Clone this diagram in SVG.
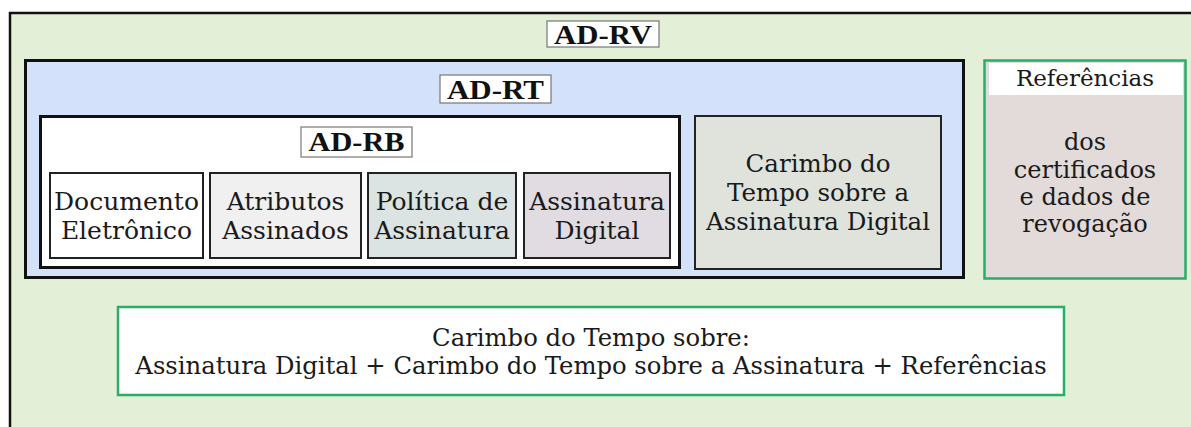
<svg xmlns="http://www.w3.org/2000/svg" width="1191" height="427" viewBox="0 0 1191 427">
<style>
.t{font-family:"DejaVu Serif",serif;font-size:24px;fill:#1a1a1a;text-anchor:middle}
.c{font-size:25px}
.lb{font-family:"Liberation Serif",serif;font-size:28px;font-weight:bold;fill:#111;text-anchor:middle}
.lbox{fill:#fff;stroke:#777;stroke-width:1.2}
.cell{stroke:#222;stroke-width:2}
.grn{stroke:#2aad66;stroke-width:2.5}
</style>
<rect width="1191" height="427" fill="#fff"/>
<g id="ad-rv">
<rect x="10" y="13" width="1200" height="440" fill="#e4efd7" stroke="#111" stroke-width="2.5"/>
<rect class="lbox" x="547" y="21" width="112" height="26"/>
<text class="lb" x="603" y="44" textLength="98" lengthAdjust="spacingAndGlyphs">AD-RV</text>
</g>
<g id="ad-rt">
<rect x="25.5" y="60.5" width="938" height="217" fill="#d3e2fa" stroke="#111" stroke-width="3"/>
<rect class="lbox" x="440" y="75" width="111" height="28"/>
<text class="lb" x="495.5" y="99" textLength="97" lengthAdjust="spacingAndGlyphs">AD-RT</text>
</g>
<g id="ad-rb">
<rect x="40.5" y="116.5" width="639" height="151" fill="#fff" stroke="#111" stroke-width="3"/>
<rect class="lbox" x="301" y="127" width="111" height="30"/>
<text class="lb" x="356.5" y="151" textLength="96" lengthAdjust="spacingAndGlyphs">AD-RB</text>
</g>
<g id="documento">
<rect class="cell" x="50" y="173" width="153" height="85" fill="#fff"/>
<text class="t c" x="126.5" y="210">Documento</text>
<text class="t c" x="126.5" y="239">Eletrônico</text>
</g>
<g id="atributos">
<rect class="cell" x="210" y="173" width="151" height="85" fill="#f0f0f0"/>
<text class="t c" x="285.5" y="210">Atributos</text>
<text class="t c" x="285.5" y="239">Assinados</text>
</g>
<g id="politica">
<rect class="cell" x="368" y="173" width="148" height="85" fill="#dce3e3"/>
<text class="t c" x="442" y="210">Política de</text>
<text class="t c" x="442" y="239">Assinatura</text>
</g>
<g id="assinatura">
<rect class="cell" x="524" y="173" width="146" height="85" fill="#e0dce2"/>
<text class="t c" x="597" y="210">Assinatura</text>
<text class="t c" x="597" y="239">Digital</text>
</g>
<g id="carimbo">
<rect class="cell" x="695" y="116" width="246" height="153" fill="#dfe3dc"/>
<text class="t" x="818" y="172" style="font-size:24.5px">Carimbo do</text>
<text class="t" x="818" y="201" style="font-size:24.5px">Tempo sobre a</text>
<text class="t" x="818" y="230" style="font-size:24.5px">Assinatura Digital</text>
</g>
<g id="referencias">
<rect class="grn" x="984.5" y="60.5" width="201" height="218" fill="#e3dada"/>
<rect x="989" y="63" width="194" height="32" fill="#fff"/>
<text class="t" x="1085" y="86" style="font-size:23px">Referências</text>
<text class="t" x="1085" y="150">dos</text>
<text class="t" x="1085" y="178">certificados</text>
<text class="t" x="1085" y="205">e dados de</text>
<text class="t" x="1085" y="232">revogação</text>
</g>
<g id="carimbo-total">
<rect class="grn" x="118" y="307" width="946" height="88" fill="#fff"/>
<text class="t" x="591" y="346" style="font-size:24.3px">Carimbo do Tempo sobre:</text>
<text class="t" x="591" y="374" style="font-size:24.3px">Assinatura Digital + Carimbo do Tempo sobre a Assinatura + Referências</text>
</g>
<g id="connectors"></g>
</svg>
